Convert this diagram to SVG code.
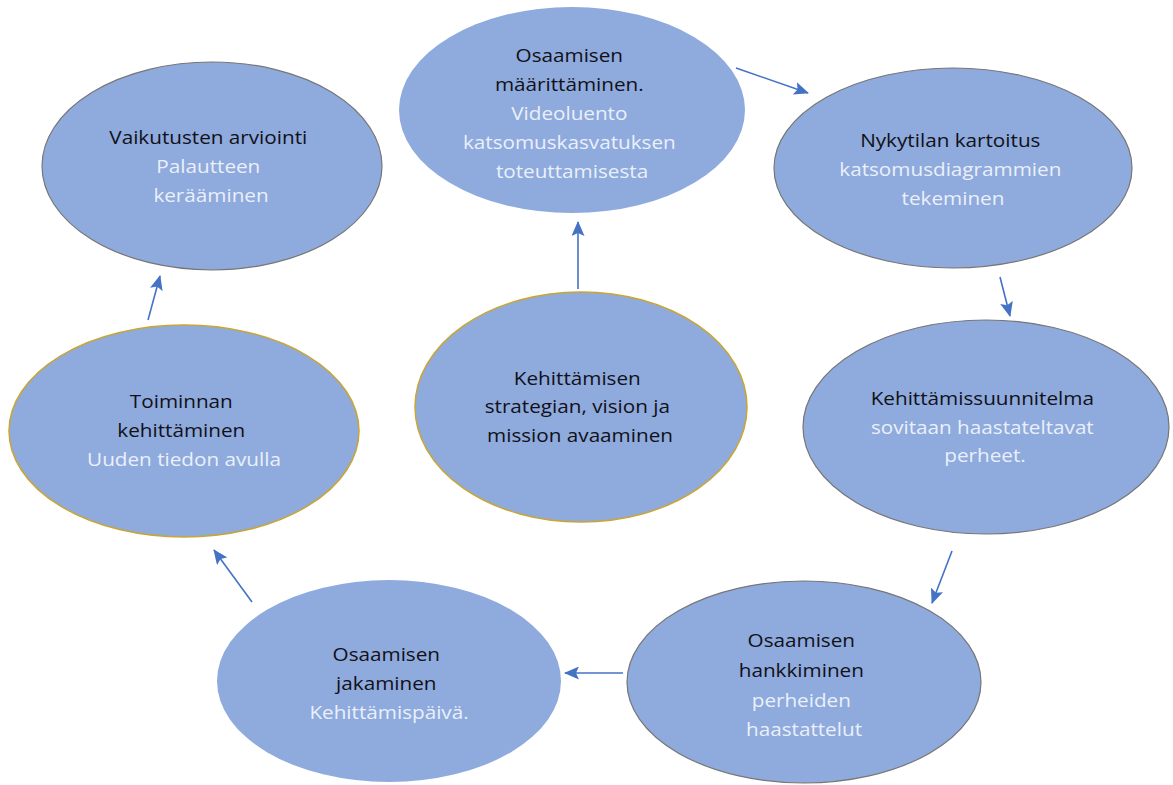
<svg xmlns="http://www.w3.org/2000/svg" width="1173" height="785" viewBox="0 0 1173 785">
  <style>
    .node { fill: #8faadc; }
    .edge-grey { stroke: #767676; stroke-width: 1.2; }
    .edge-gold { stroke: #c9a631; stroke-width: 1.5; }
    .edge-none { stroke: none; }
    text { font-family: "Open Sans", "Noto Sans", "Liberation Sans", sans-serif; font-size: 18px; text-anchor: middle; }
    .dark { fill: #111119; }
    .light { fill: #eaf0fa; }
    .conn { stroke: #4472c4; stroke-width: 1.6; fill: none; marker-end: url(#arrow); }
  </style>
  <defs>
    <marker id="arrow" markerUnits="userSpaceOnUse" markerWidth="15" markerHeight="13" refX="14" refY="6.5" orient="auto">
      <path d="M0,0 L15,6.5 L0,13 L3,6.5 Z" fill="#4472c4"/>
    </marker>
  </defs>
  <rect width="1173" height="785" fill="#ffffff"/>

  <!-- connectors -->
  <g id="connectors">
    <line class="conn" x1="736" y1="68" x2="808" y2="93"/>
    <line class="conn" x1="1000" y1="277" x2="1010" y2="316"/>
    <line class="conn" x1="952" y1="551" x2="932" y2="603"/>
    <line class="conn" x1="623" y1="673" x2="565" y2="673"/>
    <line class="conn" x1="252" y1="602" x2="214" y2="550"/>
    <line class="conn" x1="148" y1="320" x2="160" y2="276"/>
    <line class="conn" x1="578" y1="289" x2="578" y2="222"/>
  </g>

  <!-- Osaamisen määrittäminen -->
  <g id="node-maarittaminen">
    <ellipse class="node edge-none" cx="572" cy="110" rx="173" ry="103"/>
    <text transform="translate(572 0) scale(1.15 1)">
      <tspan class="dark" x="0" y="62">Osaamisen</tspan>
      <tspan class="dark" x="0" y="91">määrittäminen.</tspan>
      <tspan class="light" x="0" y="120">Videoluento</tspan>
      <tspan class="light" x="0" y="149">katsomuskasvatuksen</tspan>
      <tspan class="light" x="0" y="178">toteuttamisesta</tspan>
    </text>
  </g>

  <!-- Vaikutusten arviointi -->
  <g id="node-arviointi">
    <ellipse class="node edge-grey" cx="212" cy="166" rx="170" ry="104"/>
    <text transform="translate(211 0) scale(1.15 1)">
      <tspan class="dark" x="0" y="144">Vaikutusten arviointi</tspan>
      <tspan class="light" x="0" y="173">Palautteen</tspan>
      <tspan class="light" x="0" y="202">kerääminen</tspan>
    </text>
  </g>

  <!-- Nykytilan kartoitus -->
  <g id="node-kartoitus">
    <ellipse class="node edge-grey" cx="953" cy="168" rx="179" ry="100"/>
    <text transform="translate(953 0) scale(1.15 1)">
      <tspan class="dark" x="0" y="147">Nykytilan kartoitus</tspan>
      <tspan class="light" x="0" y="176">katsomusdiagrammien</tspan>
      <tspan class="light" x="0" y="205">tekeminen</tspan>
    </text>
  </g>

  <!-- Toiminnan kehittäminen -->
  <g id="node-toiminta">
    <ellipse class="node edge-gold" cx="184" cy="431" rx="175" ry="106"/>
    <text transform="translate(184 0) scale(1.15 1)">
      <tspan class="dark" x="0" y="408">Toiminnan</tspan>
      <tspan class="dark" x="0" y="437">kehittäminen</tspan>
      <tspan class="light" x="0" y="466">Uuden tiedon avulla</tspan>
    </text>
  </g>

  <!-- Kehittämisen strategia, visio ja missio -->
  <g id="node-strategia">
    <ellipse class="node edge-gold" cx="581" cy="407" rx="166" ry="115"/>
    <text transform="translate(580 0) scale(1.15 1)">
      <tspan class="dark" x="0" y="385">Kehittämisen</tspan>
      <tspan class="dark" x="0" y="413">strategian, vision ja</tspan>
      <tspan class="dark" x="0" y="442">mission avaaminen</tspan>
    </text>
  </g>

  <!-- Kehittämissuunnitelma -->
  <g id="node-suunnitelma">
    <ellipse class="node edge-grey" cx="986" cy="427" rx="183" ry="107"/>
    <text transform="translate(985 0) scale(1.15 1)">
      <tspan class="dark" x="0" y="405">Kehittämissuunnitelma</tspan>
      <tspan class="light" x="0" y="434">sovitaan haastateltavat</tspan>
      <tspan class="light" x="0" y="462">perheet.</tspan>
    </text>
  </g>

  <!-- Osaamisen hankkiminen -->
  <g id="node-hankkiminen">
    <ellipse class="node edge-grey" cx="804" cy="682" rx="177" ry="101"/>
    <text transform="translate(804 0) scale(1.15 1)">
      <tspan class="dark" x="0" y="647">Osaamisen</tspan>
      <tspan class="dark" x="0" y="677">hankkiminen</tspan>
      <tspan class="light" x="0" y="707">perheiden</tspan>
      <tspan class="light" x="0" y="736">haastattelut</tspan>
    </text>
  </g>

  <!-- Osaamisen jakaminen -->
  <g id="node-jakaminen">
    <ellipse class="node edge-none" cx="389" cy="681" rx="172" ry="101"/>
    <text transform="translate(389 0) scale(1.15 1)">
      <tspan class="dark" x="0" y="661">Osaamisen</tspan>
      <tspan class="dark" x="0" y="690">jakaminen</tspan>
      <tspan class="light" x="0" y="719">Kehittämispäivä.</tspan>
    </text>
  </g>
</svg>
